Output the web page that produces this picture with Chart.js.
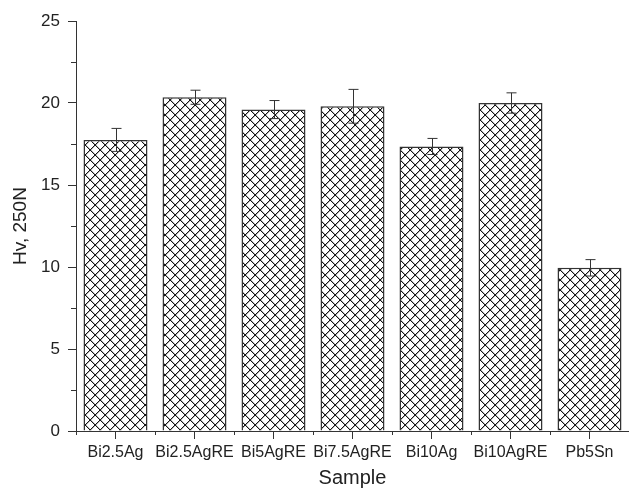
<!DOCTYPE html>
<html>
<head>
<meta charset="utf-8">
<script src="https://cdn.jsdelivr.net/npm/chart.js@4"></script>
<style>
  html, body { margin: 0; padding: 0; background: #fff; }
  #wrap { width: 629px; height: 490px; }
</style>
</head>
<body>
<div id="wrap"><canvas id="hardness"></canvas></div>
<script>
'use strict';

// ── Vickers hardness per alloy (mean and standard deviation) ──────────────
const samples = ['Bi2.5Ag', 'Bi2.5AgRE', 'Bi5AgRE', 'Bi7.5AgRE', 'Bi10Ag', 'Bi10AgRE', 'Pb5Sn'];
const hardness = [17.75, 20.35, 19.6, 19.8, 17.35, 20.0, 9.95];
const hardnessErr = [0.7, 0.43, 0.55, 1.03, 0.49, 0.62, 0.5];
const yTicks = [0, 5, 10, 15, 20, 25];
const yMinorTicks = [2.5, 7.5, 12.5, 17.5, 22.5];

const INK = '#222';
const FONT = 'Liberation Sans, Arial, Helvetica, sans-serif';

// Cross-hatch fill drawn pixel by pixel so the diagonals stay crisp
function crossHatch(size) {
    const c = document.createElement('canvas');
    c.width = size;
    c.height = size;
    const g = c.getContext('2d');
    g.fillStyle = '#fff';
    g.fillRect(0, 0, size, size);
    for (let i = 0; i < size; i++) {
        g.fillStyle = '#b5b5b5';
        g.fillRect((i + 1) % size, i, 1, 1);
        g.fillRect((size - i) % size, i, 1, 1);
    }
    for (let i = 0; i < size; i++) {
        g.fillStyle = '#151515';
        g.fillRect(i, i, 1, 1);
        g.fillRect(size - 1 - i, i, 1, 1);
    }
    return g.createPattern(c, 'repeat');
}

// Error bars and minor ticks, positioned through the chart's own scales
const extras = {
    id: 'extras',
    afterDatasetsDraw(chart) {
        const { ctx, scales: { x, y } } = chart;
        const meta = chart.getDatasetMeta(0);
        ctx.save();
        ctx.strokeStyle = '#333';
        ctx.lineWidth = 1;
        ctx.beginPath();
        meta.data.forEach((bar, i) => {
            const cx = Math.round(bar.x) + 0.5;
            const top = y.getPixelForValue(hardness[i] + hardnessErr[i]);
            const bot = y.getPixelForValue(hardness[i] - hardnessErr[i]);
            ctx.moveTo(cx, top); ctx.lineTo(cx, bot);
            ctx.moveTo(cx - 5, top); ctx.lineTo(cx + 5, top);
            ctx.moveTo(cx - 5, bot); ctx.lineTo(cx + 5, bot);
        });
        ctx.stroke();

        // minor ticks
        ctx.beginPath();
        yMinorTicks.forEach(v => {
            const py = Math.round(y.getPixelForValue(v)) + 0.5;
            ctx.moveTo(x.left - 5, py); ctx.lineTo(x.left, py);
        });
        for (let i = 0; i <= samples.length; i++) {
            const px = Math.round(x.getPixelForValue(i - 0.5)) + 0.5;
            ctx.moveTo(px, y.bottom); ctx.lineTo(px, y.bottom + 4);
        }
        ctx.stroke();
        ctx.restore();
    },
};

new Chart(document.getElementById('hardness'), {
    type: 'bar',
    data: {
        labels: samples,
        datasets: [{
            data: hardness,
            backgroundColor: crossHatch(10),
            borderColor: '#333',
            borderWidth: 1.5,
            categoryPercentage: 1,
            barPercentage: 0.81,
        }],
    },
    options: {
        responsive: true,
        maintainAspectRatio: false,
        animation: false,
        layout: { padding: { top: 21, right: 0, bottom: 0, left: 0 } },
        plugins: { legend: { display: false }, tooltip: { enabled: false } },
        scales: {
            x: {
                offset: true,
                grid: { display: true, drawOnChartArea: false, tickLength: 8, color: '#333', offset: false },
                border: { color: '#333', width: 1 },
                ticks: { color: INK, padding: 4, maxRotation: 0, autoSkip: false, font: { family: FONT, size: 16 } },
                title: { display: true, text: 'Sample', color: INK, padding: { top: 0, bottom: 0 }, font: { family: FONT, size: 20 } },
                afterFit: s => { s.height = 59; },
            },
            y: {
                min: 0,
                max: 25,
                afterBuildTicks: s => { s.ticks = yTicks.map(v => ({ value: v })); },
                grid: { display: true, drawOnChartArea: false, tickLength: 8, color: '#333' },
                border: { color: '#333', width: 1 },
                ticks: { color: INK, padding: 8, font: { family: FONT, size: 17 } },
                title: { display: true, text: 'Hv, 250N', color: INK, padding: { top: 9, bottom: 0 }, font: { family: FONT, size: 19 } },
                afterFit: s => { s.width = 76; },
            },
        },
    },
    plugins: [extras],
});
</script>
</body>
</html>
